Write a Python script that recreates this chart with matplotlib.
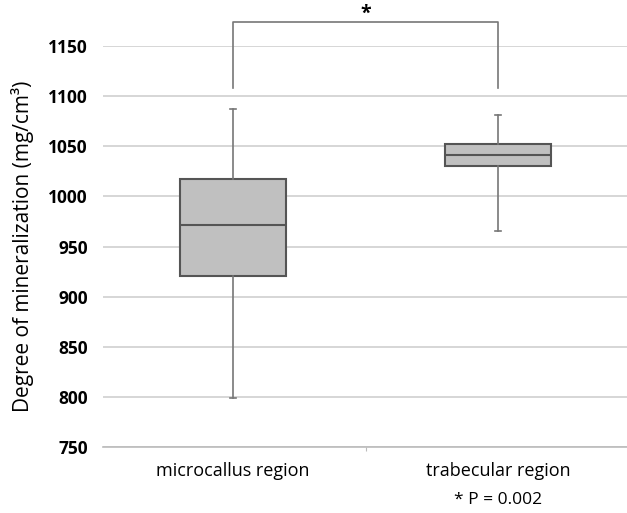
import matplotlib
matplotlib.use("Agg")
import matplotlib.pyplot as plt

categories = ["microcallus region", "trabecular region"]
whislo = [799, 965]
q1 = [921, 1030]
med = [971, 1041]
q3 = [1017, 1052]
whishi = [1087, 1081]
yticks = [750, 800, 850, 900, 950, 1000, 1050, 1100, 1150]

plt.rcParams['font.family'] = ['Open Sans', 'DejaVu Sans']

fig = plt.figure(figsize=(6.27, 5.13), dpi=100)
ax = fig.add_axes([103 / 627, 66 / 513, 524 / 627, 401 / 513])

stats = []
for i, c in enumerate(categories):
    stats.append(dict(label=c, whislo=whislo[i], q1=q1[i], med=med[i], q3=q3[i],
                      whishi=whishi[i], fliers=[]))

ax.bxp(stats, positions=[1, 2], widths=0.4, patch_artist=True, showfliers=False,
       boxprops=dict(facecolor="#c0c0c0", edgecolor="#555555", linewidth=1.5),
       medianprops=dict(color="#555555", linewidth=1.5),
       whiskerprops=dict(color="#777777", linewidth=1.2),
       capprops=dict(color="#777777", linewidth=1.2),
       capwidths=0.022, zorder=3)

ax.set_xlim(0.509, 2.487)
ax.set_ylim(750, 1150)
ax.set_yticks(yticks)
ax.set_yticklabels([str(t) for t in yticks], fontsize=12.5, fontweight="bold")
ax.tick_params(axis="y", length=0, pad=11)
ax.set_xticks([1.5])
ax.set_xticklabels([""])
ax.tick_params(axis="x", length=3, color="#bbbbbb")
for i, c in enumerate(categories):
    ax.text(i + 1, 735, c, ha="center", va="top", fontsize=13, clip_on=False)

ax.grid(axis="y", color="#d0d0d0", linewidth=1.2, zorder=0)
ax.set_axisbelow(True)
for s in ["top", "right", "left"]:
    ax.spines[s].set_visible(False)
ax.spines["bottom"].set_color("#bbbbbb")
ax.spines["bottom"].set_linewidth(1.2)

ax.set_ylabel("Degree of mineralization (mg/cm³)", fontsize=15)
ax.yaxis.set_label_coords(-0.132, 0.5)

# significance bracket
ax.plot([1, 1, 2, 2], [1108, 1174, 1174, 1108], color="#777777", linewidth=1.2,
        clip_on=False)
ax.text(1.5, 1172, "*", ha="center", va="bottom", fontsize=14, fontweight="bold")
ax.text(2, 705, "* P = 0.002", ha="center", va="top", fontsize=12.5)

fig.savefig("out.png", dpi=100)
